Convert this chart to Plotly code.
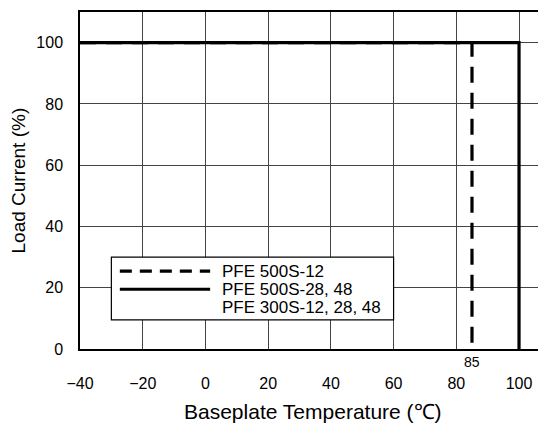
import plotly.graph_objects as go

# Data: derating curves (baseplate temperature in °C, load current in %)
temp_500s12 = [-40, 85, 85]
load_500s12 = [100, 100, 0]
temp_other = [-40, 100, 100]
load_other = [100, 100, 0]

x_ticks = [-40, -20, 0, 20, 40, 60, 80, 100]
y_ticks = [0, 20, 40, 60, 80, 100]
legend_labels = ["PFE 500S-12", "PFE 500S-28, 48", "PFE 300S-12, 28, 48"]
marker_temp = 85
x_title = "Baseplate Temperature (℃)"
y_title = "Load Current (%)"

FONT = "Liberation Sans, Arial, Helvetica, sans-serif"

fig = go.Figure()
fig.add_trace(go.Scatter(x=temp_500s12, y=load_500s12, mode="lines",
                         line=dict(color="black", width=3.2, dash="16px,10px"),
                         showlegend=False, hoverinfo="skip"))
fig.add_trace(go.Scatter(x=temp_other, y=load_other, mode="lines",
                         line=dict(color="black", width=3.2),
                         showlegend=False, hoverinfo="skip"))

# Manual legend box
shapes = [
    dict(type="rect", xref="x", yref="y", x0=-30, x1=60, y0=9.5, y1=30,
         line=dict(color="black", width=1.2), fillcolor="white", layer="above"),
    dict(type="line", xref="x", yref="y", x0=-27.3, x1=1.5, y0=25.4, y1=25.4,
         line=dict(color="black", width=3.2, dash="12px,8px"), layer="above"),
    dict(type="line", xref="x", yref="y", x0=-27.3, x1=1.5, y0=19.5, y1=19.5,
         line=dict(color="black", width=3.2), layer="above"),
]
annotations = []
for lbl, yy in zip(legend_labels, [25.4, 19.5, 13.4]):
    annotations.append(dict(x=4.8, y=yy, xref="x", yref="y", text=lbl, showarrow=False,
                            xanchor="left", yanchor="middle",
                            font=dict(family=FONT, size=17, color="black")))
annotations.append(dict(x=marker_temp, y=0, xref="x", yref="y", text=str(marker_temp),
                        showarrow=False, xanchor="center", yanchor="top", yshift=-3,
                        font=dict(family=FONT, size=14, color="black")))
annotations.append(dict(x=0.5, y=0, xref="paper", yref="paper", text=x_title,
                        showarrow=False, xanchor="center", yanchor="middle", yshift=-62,
                        font=dict(family=FONT, size=21, color="black")))
annotations.append(dict(x=0, y=0.5, xref="paper", yref="paper", text=y_title,
                        showarrow=False, xanchor="center", yanchor="middle", xshift=-62,
                        textangle=-90,
                        font=dict(family=FONT, size=19, color="black")))

fig.update_layout(
    width=538, height=415,
    margin=dict(l=72, r=0, t=4, b=74),
    paper_bgcolor="white", plot_bgcolor="white",
    shapes=shapes, annotations=annotations,
    font=dict(family=FONT, color="black"),
    xaxis=dict(range=[-40, 108.6], tickvals=x_ticks, showgrid=True, automargin=False,
               gridcolor="#444", gridwidth=1, zeroline=False,
               showline=True, linecolor="black", linewidth=1.5, mirror=True,
               ticks="outside", ticklen=19, tickcolor="rgba(0,0,0,0)",
               tickfont=dict(family=FONT, size=16)),
    yaxis=dict(range=[0, 110], tickvals=y_ticks, showgrid=True, automargin=False,
               gridcolor="#444", gridwidth=1, zeroline=False,
               showline=True, linecolor="black", linewidth=1.5, mirror=False,
               ticks="outside", ticklen=12, tickcolor="rgba(0,0,0,0)",
               tickfont=dict(family=FONT, size=16)),
)

fig.write_html("out.html")
